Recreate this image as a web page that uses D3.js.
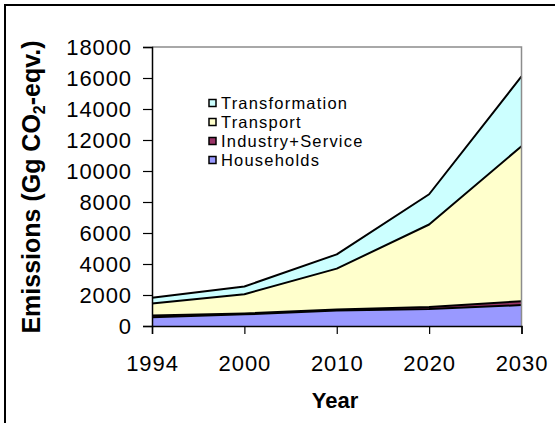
<!DOCTYPE html>
<html>
<head>
<meta charset="utf-8">
<script src="https://cdn.jsdelivr.net/npm/d3@7"></script>
<style>
  html, body { margin: 0; padding: 0; background: #fff; }
  svg { display: block; font-family: "Liberation Sans", Arial, sans-serif; }
</style>
</head>
<body>
<svg id="chart" width="555" height="423"></svg>
<script>
// Emission projections by sector (Gg CO2-eqv.), stacked
const years = ["1994", "2000", "2010", "2020", "2030"];
const households = [560, 750, 1000, 1100, 1350];
const industryService = [120, 60, 60, 130, 250];
const transport = [770, 1240, 2640, 5320, 10000];
const transformation = [380, 500, 920, 1950, 4500];
const yTicks = [0, 2000, 4000, 6000, 8000, 10000, 12000, 14000, 16000, 18000];

const seriesNames = ["Households", "Industry+Service", "Transport", "Transformation"];
const seriesValues = [households, industryService, transport, transformation];
const seriesColors = ["#9999ff", "#993366", "#ffffcc", "#ccffff"];

const FONT = "'Liberation Sans', Arial, sans-serif";

const rows = years.map((yr, i) => {
  const r = { year: yr };
  seriesNames.forEach((n, k) => { r[n] = seriesValues[k][i]; });
  return r;
});

const svg = d3.select("#chart");
const plot = { left: 152, right: 521.5, top: 47, bottom: 326 };

// outer chart frame
svg.append("rect")
  .attr("x", 5).attr("y", 5)
  .attr("width", 700).attr("height", 700)
  .attr("fill", "none").attr("stroke", "#000").attr("stroke-width", 2);

const x = d3.scalePoint().domain(years).range([plot.left, plot.right]);
const y = d3.scaleLinear().domain([0, 18000]).range([plot.bottom, plot.top]);

const stacked = d3.stack().keys(seriesNames)(rows);

const area = d3.area()
  .x(d => x(d.data.year))
  .y0(d => y(d[0]))
  .y1(d => y(d[1]));
const topLine = d3.line()
  .x(d => x(d.data.year))
  .y(d => y(d[1]));

svg.append("g").selectAll("path")
  .data(stacked)
  .join("path")
  .attr("d", area)
  .attr("fill", (d, i) => seriesColors[i]);

svg.append("g").selectAll("path")
  .data(stacked)
  .join("path")
  .attr("d", topLine)
  .attr("fill", "none")
  .attr("stroke", "#000")
  .attr("stroke-width", 2)
  .attr("stroke-linejoin", "round");

// plot area border (top and right)
svg.append("path")
  .attr("d", `M${plot.left},${plot.top}H${plot.right}V${plot.bottom}`)
  .attr("fill", "none").attr("stroke", "#8c8c8c").attr("stroke-width", 1.5);

// y axis
const yAxis = svg.append("g")
  .attr("transform", `translate(${plot.left},0)`)
  .call(d3.axisLeft(y).tickValues(yTicks).tickSize(9).tickPadding(11).tickFormat(d3.format("d")));
yAxis.select(".domain").attr("stroke", "#000").attr("stroke-width", 1.5);
yAxis.selectAll(".tick line").attr("stroke", "#000").attr("stroke-width", 1.2);
yAxis.selectAll(".tick text")
  .attr("font-size", 22).attr("letter-spacing", 0.9).attr("fill", "#000")
  .attr("font-family", FONT);

// x axis
const xAxis = svg.append("g")
  .attr("transform", `translate(0,${plot.bottom})`)
  .call(d3.axisBottom(x).tickSize(8).tickPadding(21));
xAxis.select(".domain").attr("stroke", "#000").attr("stroke-width", 1.5);
xAxis.selectAll(".tick line").attr("stroke", "#000").attr("stroke-width", 1.2);
xAxis.selectAll(".tick text")
  .attr("font-size", 22).attr("letter-spacing", 0.9).attr("fill", "#000")
  .attr("font-family", FONT);

// axis titles
svg.append("text")
  .attr("x", 335).attr("y", 408)
  .attr("text-anchor", "middle")
  .attr("font-size", 22).attr("font-weight", "bold")
  .text("Year");

const yTitle = svg.append("text")
  .attr("transform", "translate(40,187) rotate(-90)")
  .attr("text-anchor", "middle")
  .attr("font-size", 25).attr("font-weight", "bold");
yTitle.append("tspan").text("Emissions (Gg CO");
yTitle.append("tspan").attr("font-size", 16).attr("dy", 5).text("2");
yTitle.append("tspan").attr("dy", -5).text("-eqv.)");

// legend, listed top-down in reverse stacking order
const legendOrder = [3, 2, 1, 0];
const legend = svg.append("g").attr("transform", "translate(209,103)");
legendOrder.forEach((k, j) => {
  const g = legend.append("g").attr("transform", `translate(0,${j * 19})`);
  g.append("rect")
    .attr("x", 0).attr("y", -3.5).attr("width", 7).attr("height", 7)
    .attr("fill", seriesColors[k]).attr("stroke", "#000").attr("stroke-width", 1.5);
  g.append("text")
    .attr("x", 12).attr("y", 5.8)
    .attr("font-size", 16.5).attr("letter-spacing", 1.2)
    .text(seriesNames[k]);
});
</script>
</body>
</html>
